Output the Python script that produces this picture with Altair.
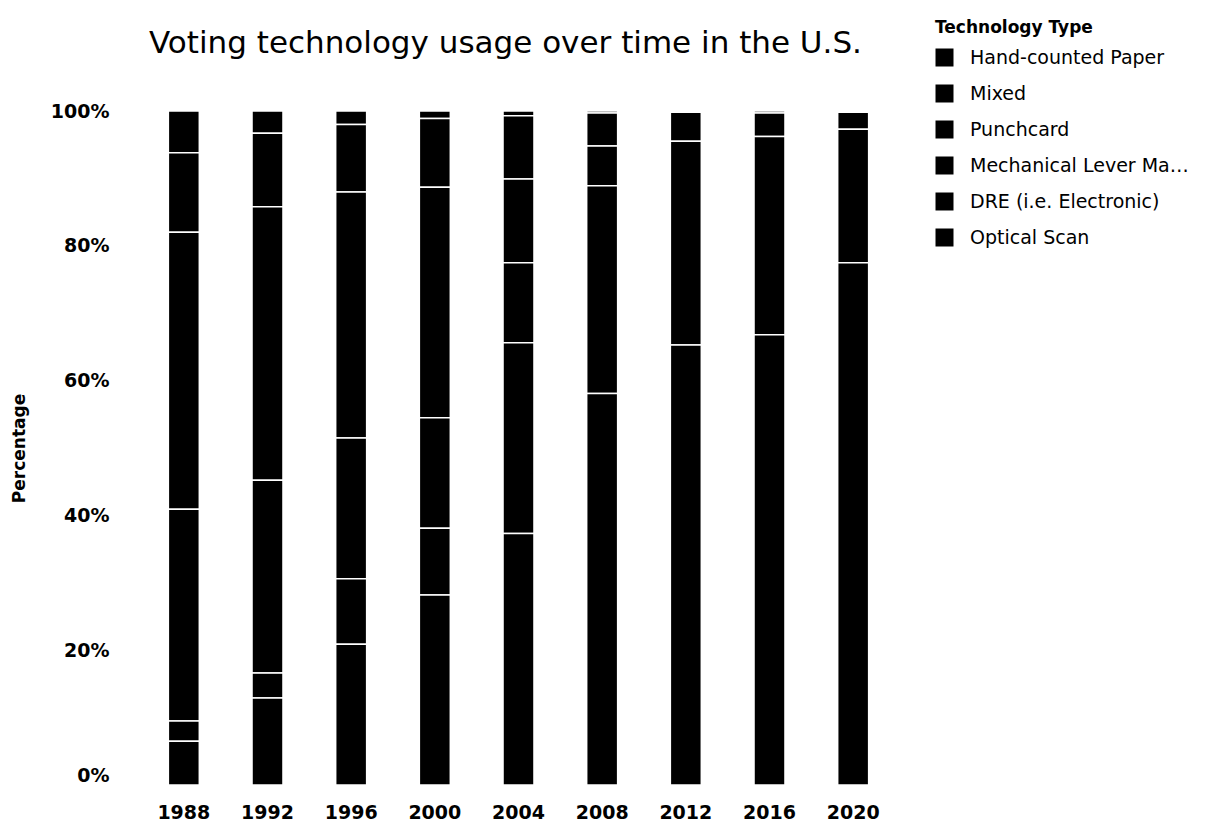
import altair as alt
import pandas as pd

years = ["1988", "1992", "1996", "2000", "2004", "2008", "2012", "2016", "2020"]
technologies = [
    "Hand-counted Paper",
    "Mixed",
    "Punchcard",
    "Mechanical Lever Machine",
    "DRE (i.e. Electronic)",
    "Optical Scan",
]

# percentage of usage per year, 1988 .. 2020
paper = [6.2, 3.3, 2.0, 1.1, 0.7, 0.3, 0.2, 0.3, 0.2]
mixed = [11.8, 10.9, 10.0, 10.2, 9.4, 4.9, 4.3, 3.5, 2.5]
punchcard = [41.1, 40.6, 36.5, 34.2, 12.4, 0.0, 0.0, 0.0, 0.0]
lever = [31.4, 28.6, 20.9, 16.4, 11.9, 5.9, 0.0, 0.0, 0.0]
dre = [3.0, 3.7, 9.7, 9.9, 28.3, 30.8, 30.2, 29.4, 19.8]
optical = [6.5, 12.9, 20.9, 28.2, 37.3, 58.1, 65.3, 66.8, 77.5]

series = {
    "Hand-counted Paper": paper,
    "Mixed": mixed,
    "Punchcard": punchcard,
    "Mechanical Lever Machine": lever,
    "DRE (i.e. Electronic)": dre,
    "Optical Scan": optical,
}
# bottom of the stack = last legend entry
stack_rank = {t: i for i, t in enumerate(reversed(technologies))}

rows = []
for tech, vals in series.items():
    for yr, v in zip(years, vals):
        if v > 0:
            rows.append({"Year": yr, "Technology Type": tech, "Share": v, "rank": stack_rank[tech]})
df = pd.DataFrame(rows)

FONT = "DejaVu Sans"

chart = alt.Chart(df).mark_bar(stroke="white", strokeWidth=1.5).encode(
    x=alt.X(
        "Year:N",
        sort=years,
        title=None,
        scale=alt.Scale(paddingInner=0.63, paddingOuter=0.315),
        axis=alt.Axis(
            labelAngle=0,
            labelFont=FONT,
            labelFontSize=19,
            labelFontWeight="bold",
            labelColor="black",
            labelPadding=18,
            ticks=False,
            domain=False,
        ),
    ),
    y=alt.Y(
        "Share:Q",
        stack="normalize",
        title="Percentage",
        scale=alt.Scale(domain=[0, 1]),
        axis=alt.Axis(
            format=".0%",
            values=[0, 0.2, 0.4, 0.6, 0.8, 1.0],
            grid=False,
            ticks=False,
            domain=False,
            labelPadding=33,
            labelFont=FONT,
            labelFontSize=19,
            labelFontWeight="bold",
            labelColor="black",
            labelBaseline={"condition": {"test": "datum.value === 0", "value": "bottom"}, "value": "middle"},
            titleFont=FONT,
            titleFontSize=17,
            titleFontWeight="bold",
            titleColor="black",
            titlePadding=22,
        ),
    ),
    color=alt.Color(
        "Technology Type:N",
        scale=alt.Scale(domain=technologies, range=["#000000"] * 6),
        legend=alt.Legend(
            title="Technology Type",
            orient="none",
            legendX=793,
            legendY=-91,
            padding=0,
            titleFont=FONT,
            titleFontSize=17,
            titleFontWeight="bold",
            titleColor="black",
            titlePadding=11,
            labelFont=FONT,
            labelFontSize=19,
            labelColor="black",
            labelLimit=222,
            labelOffset=16,
            symbolType="square",
            symbolSize=324,
            symbolStrokeWidth=0,
            rowPadding=16,
        ),
    ),
    order=alt.Order("rank:Q", sort="ascending"),
).properties(
    width=753,
    height=674,
    title=alt.TitleParams(
        "Voting technology usage over time in the U.S.",
        font=FONT,
        fontSize=31,
        fontWeight="normal",
        color="black",
        anchor="middle",
        baseline="alphabetic",
        offset=0,
        dy=64,
        dx=-13,
    ),
    autosize=alt.AutoSizeParams(type="none"),
    padding={"left": 134, "top": 103, "right": 300, "bottom": 36},
).configure(font=FONT).configure_view(strokeWidth=0)

chart.save("out.html", embed_options={"renderer": "svg", "actions": False})
